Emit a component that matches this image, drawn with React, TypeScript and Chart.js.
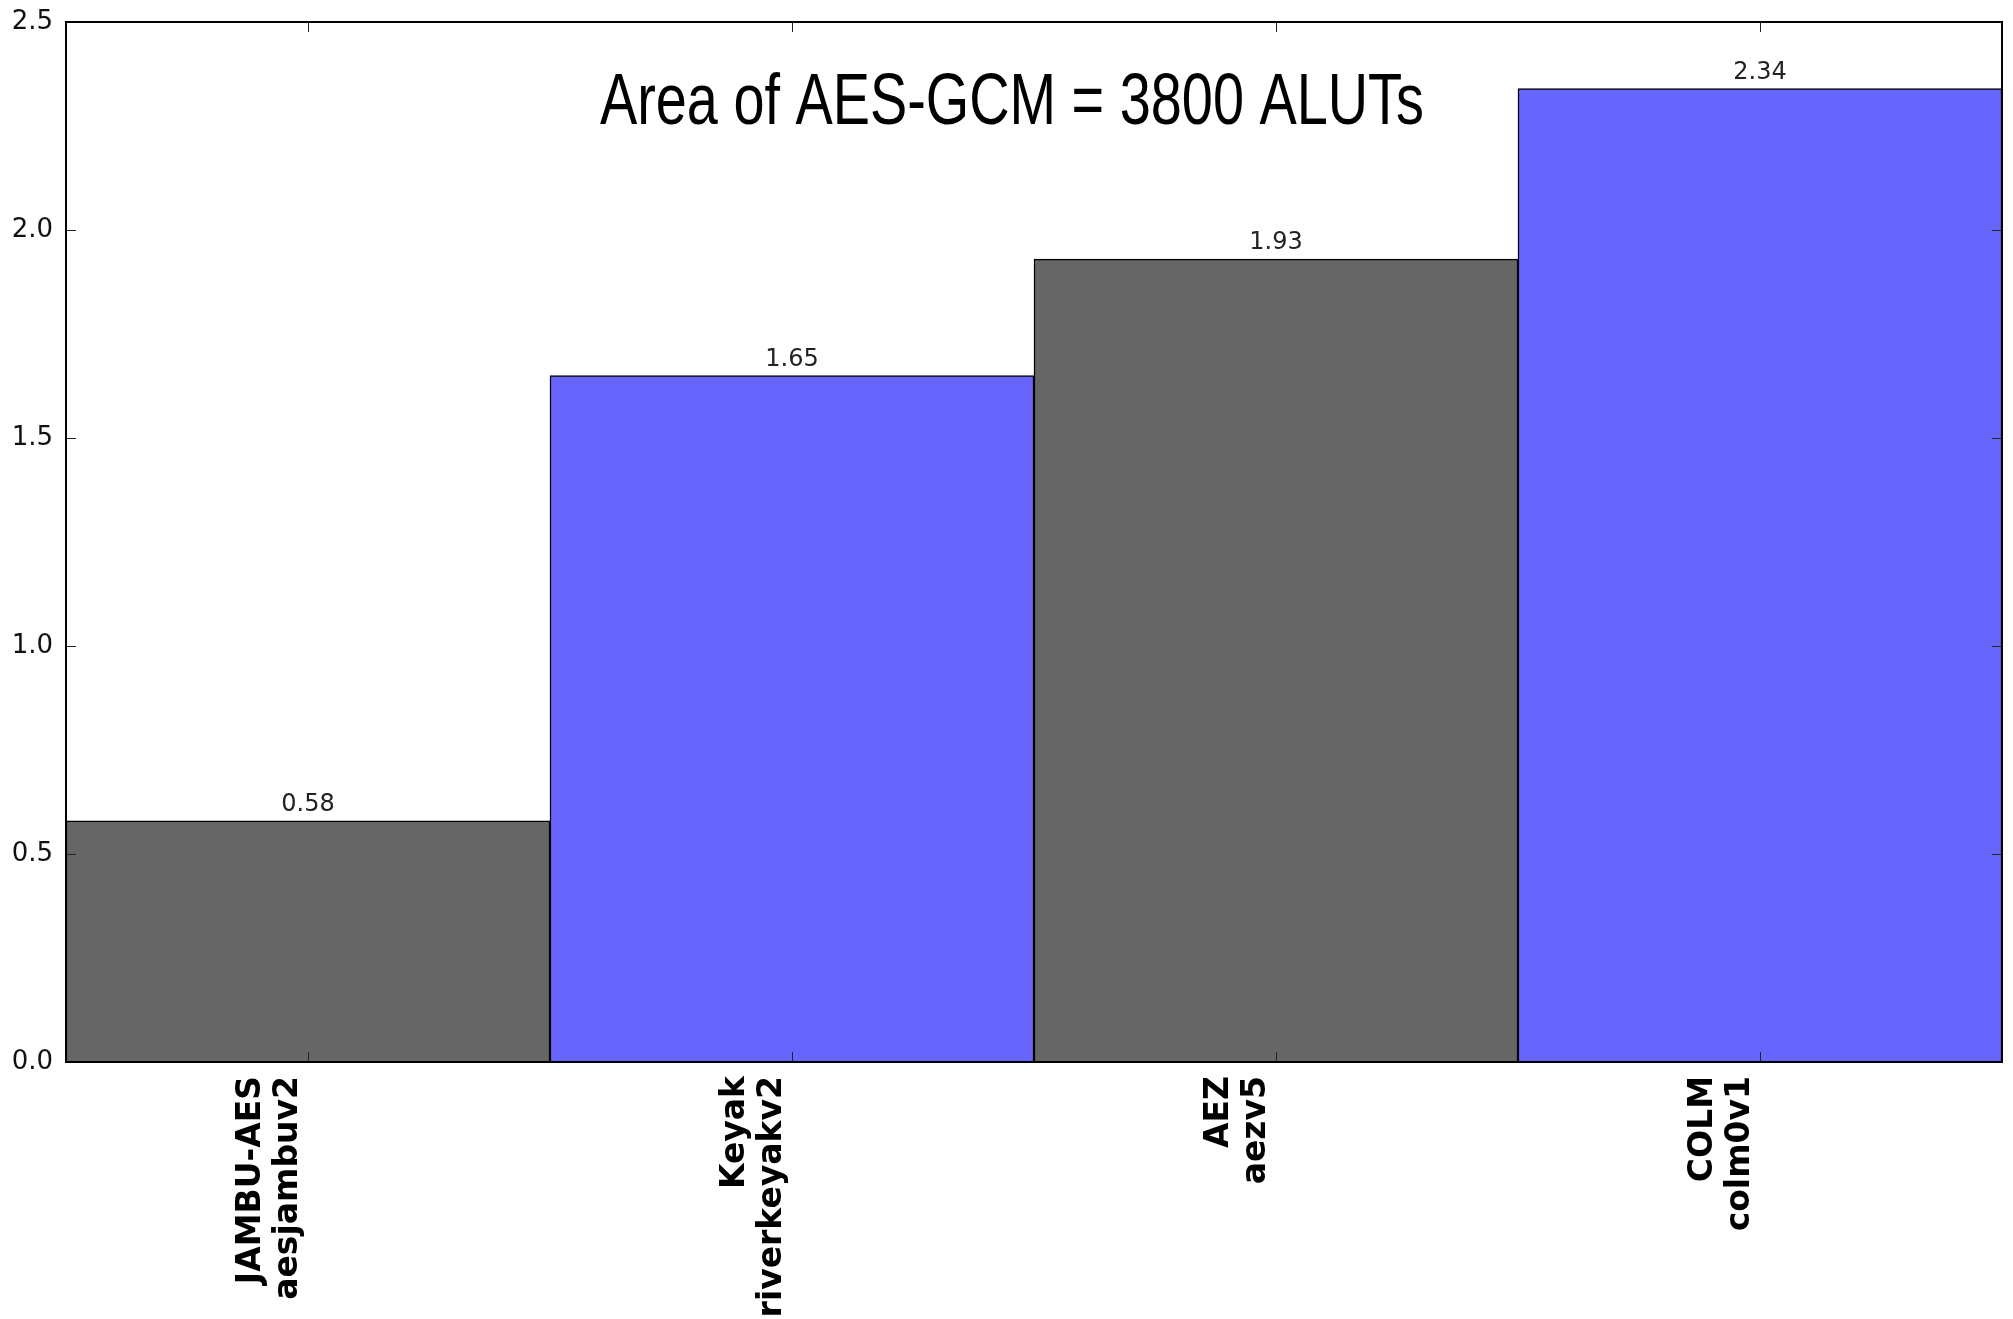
import React, { useEffect, useRef } from "react";
import { Chart, registerables } from "chart.js";

Chart.register(...registerables);

const categories: string[][] = [
  ["JAMBU-AES", "aesjambuv2"],
  ["Keyak", "riverkeyakv2"],
  ["AEZ", "aezv5"],
  ["COLM", "colm0v1"],
];
const values: number[] = [0.58, 1.65, 1.93, 2.34];
const barColors: string[] = ["#666666", "#6666ff", "#666666", "#6666ff"];
const yTicks: number[] = [0, 0.5, 1.0, 1.5, 2.0, 2.5];
const titleText = "Area of AES-GCM = 3800 ALUTs";

const W = 2013;
const H = 1319;

const decorPlugin = {
  id: "decor",
  afterDatasetsDraw(chart: any) {
    const { ctx, chartArea } = chart;
    const { left, right, top, bottom } = chartArea;
    const xs = chart.scales.x;
    const ys = chart.scales.y;
    ctx.save();
    // inward ticks
    ctx.strokeStyle = "#222";
    ctx.lineWidth = 1;
    const tl = 10;
    ctx.beginPath();
    for (const v of yTicks) {
      const py = Math.round(ys.getPixelForValue(v)) + 0.5;
      ctx.moveTo(left, py);
      ctx.lineTo(left + tl, py);
      ctx.moveTo(right, py);
      ctx.lineTo(right - tl, py);
    }
    for (let i = 0; i < categories.length; i++) {
      const px = Math.round(xs.getPixelForTick(i)) + 0.5;
      ctx.moveTo(px, bottom);
      ctx.lineTo(px, bottom - tl);
      ctx.moveTo(px, top);
      ctx.lineTo(px, top + tl);
    }
    ctx.stroke();
    // frame
    ctx.strokeStyle = "#000";
    ctx.lineWidth = 2;
    ctx.strokeRect(left, top, right - left, bottom - top);
    // value labels
    const meta = chart.getDatasetMeta(0);
    ctx.fillStyle = "#222";
    ctx.font = '24px "DejaVu Sans"';
    ctx.textAlign = "center";
    ctx.textBaseline = "alphabetic";
    meta.data.forEach((bar: any, i: number) => {
      ctx.fillText(values[i].toFixed(2), bar.x, bar.y - 10);
    });
    // title (condensed)
    ctx.fillStyle = "#000";
    ctx.font = '72px "Liberation Sans Narrow", "Liberation Sans", Arial';
    ctx.textAlign = "center";
    const w = ctx.measureText(titleText).width;
    const target = 824;
    const sx = target / w;
    const cx = left + (right - left) * 0.4886;
    const cy = top + 102;
    ctx.translate(cx, cy);
    ctx.scale(sx, 1);
    ctx.fillText(titleText, 0, 0);
    ctx.restore();
  },
};

export default function App() {
  const ref = useRef<HTMLCanvasElement | null>(null);
  useEffect(() => {
    if (!ref.current) return;
    const chart = new Chart(ref.current, {
      type: "bar",
      data: {
        labels: categories,
        datasets: [
          {
            data: values,
            backgroundColor: barColors,
            borderColor: "#000",
            borderWidth: 1.5,
            barPercentage: 1,
            categoryPercentage: 1,
          },
        ],
      },
      options: {
        responsive: false,
        animation: false,
        devicePixelRatio: 1,
        layout: { padding: { top: 22, right: 11, left: 0, bottom: 0 } },
        plugins: {
          legend: { display: false },
          tooltip: { enabled: false },
          title: { display: false },
        },
        scales: {
          x: {
            grid: { display: false, drawTicks: false },
            border: { display: false },
            ticks: {
              autoSkip: false,
              maxRotation: 90,
              minRotation: 90,
              padding: 14,
              labelOffset: -57,
              color: "#000",
              font: { family: '"DejaVu Sans"', size: 33, weight: "bold", lineHeight: 1.136 },
            },
            afterFit(scale: any) {
              scale.height = H - 1062;
              scale.paddingLeft = 0;
              scale.paddingRight = 0;
            },
          },
          y: {
            min: 0,
            max: 2.5,
            grid: { display: false, drawTicks: false },
            border: { display: false },
            ticks: {
              stepSize: 0.5,
              padding: 13,
              color: "#111",
              font: { family: '"DejaVu Sans"', size: 26 },
              callback: (v: any) => Number(v).toFixed(1),
            },
            afterFit(scale: any) {
              scale.width = 66;
              scale.paddingTop = 0;
              scale.paddingBottom = 0;
            },
          },
        },
      },
      plugins: [decorPlugin],
    });
    return () => chart.destroy();
  }, []);
  return (
    <div style={{ position: "fixed", left: 0, top: 0, width: W, height: H, background: "#fff" }}>
      <canvas ref={ref} width={W} height={H} style={{ width: W, height: H, display: "block" }} />
    </div>
  );
}
